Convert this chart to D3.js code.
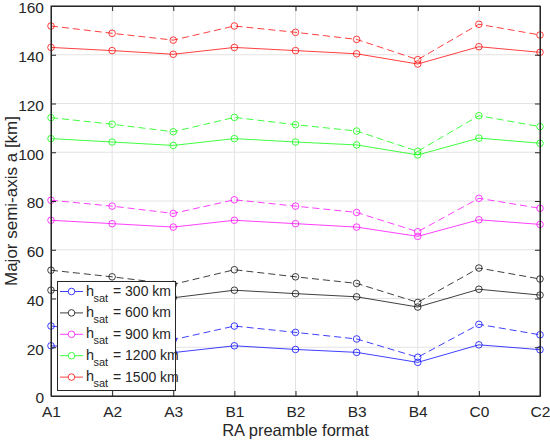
<!DOCTYPE html>
<html><head><meta charset="utf-8">
<script src="https://cdn.jsdelivr.net/npm/d3@7"></script>
<style>body{margin:0;background:#fff}svg{display:block;font-family:"Liberation Sans",Arial,sans-serif}</style>
</head><body><svg id="c" width="550" height="442"></svg>
<script>
const categories = ["A1","A2","A3","B1","B2","B3","B4","C0","C2"];
const yTicks = [0,20,40,60,80,100,120,140,160];
const heights = ["300","600","900","1200","1500"];
const colors = ["#0000ff","#000000","#ff00ff","#00ff00","#ff0000"];
const solid300  = [20.6,19.3,17.8,20.6,19.1,17.9,13.8,21.0,19.0];
const dashed300 = [28.7,26.0,23.1,28.7,26.1,23.4,15.9,29.4,25.1];
const solid600  = [43.4,42.0,40.3,43.4,42.0,40.7,36.5,43.8,41.4];
const dashed600 = [51.6,48.9,45.8,51.8,48.9,46.2,38.4,52.5,48.0];
const solid900  = [72.1,70.7,69.3,72.1,70.7,69.3,65.5,72.3,70.4];
const dashed900 = [80.3,77.9,74.9,80.5,77.9,75.3,67.4,81.1,77.0];
const solid1200  = [105.6,104.2,102.8,105.6,104.2,103.0,98.9,105.8,103.7];
const dashed1200 = [114.2,111.5,108.4,114.3,111.3,108.7,100.4,115.0,110.5];
const solid1500  = [143.0,141.7,140.2,143.0,141.7,140.4,136.2,143.3,141.0];
const dashed1500 = [151.8,148.8,146.0,151.8,149.2,146.3,138.0,152.5,148.1];
const solids = [solid300,solid600,solid900,solid1200,solid1500];
const dasheds = [dashed300,dashed600,dashed900,dashed1200,dashed1500];

const L=51,R=540,T=6,B=396;
const svg=d3.select("#c");
const x=d3.scalePoint().domain(categories).range([L,R]);
const y=d3.scaleLinear().domain([0,160]).range([B,T]);
const axisCol="#262626";

// grid
const g=svg.append("g");
g.selectAll("line.gx").data(categories).enter().append("line")
 .attr("x1",d=>x(d)).attr("x2",d=>x(d)).attr("y1",T).attr("y2",B)
 .attr("stroke","#e3e3e3").attr("stroke-width",1);
g.selectAll("line.gy").data(yTicks).enter().append("line")
 .attr("y1",d=>y(d)).attr("y2",d=>y(d)).attr("x1",L).attr("x2",R)
 .attr("stroke","#e3e3e3").attr("stroke-width",1);

// series
const line=d3.line().x((d,i)=>x(categories[i])).y(d=>y(d));
[[dasheds,"7,4"],[solids,null]].forEach(([sets,dash])=>{
  sets.forEach((vals,k)=>{
    const p=svg.append("path").datum(vals).attr("d",line).attr("fill","none")
      .attr("stroke",colors[k]).attr("stroke-width",1).attr("stroke-opacity",0.75);
    if(dash) p.attr("stroke-dasharray",dash);
    svg.selectAll(null).data(vals).enter().append("circle")
      .attr("cx",(d,i)=>x(categories[i])).attr("cy",d=>y(d)).attr("r",3.3)
      .attr("fill","none").attr("stroke",colors[k]).attr("stroke-width",1).attr("stroke-opacity",0.75);
  });
});

// axes
const ax=d3.axisBottom(x).tickSizeInner(-5).tickSizeOuter(0).tickPadding(10);
svg.append("g").attr("transform",`translate(0,${B})`).call(ax);
const ay=d3.axisLeft(y).tickValues(yTicks).tickSizeInner(-5).tickSizeOuter(0).tickPadding(7);
const gy=svg.append("g").attr("transform",`translate(${L},0)`).call(ay);
svg.append("g").attr("transform",`translate(0,${T})`).call(d3.axisTop(x).tickSizeInner(-5).tickSizeOuter(0).tickFormat(""));
svg.append("g").attr("transform",`translate(${R},0)`).call(d3.axisRight(y).tickValues(yTicks).tickSizeInner(-5).tickSizeOuter(0).tickFormat(""));
svg.selectAll(".domain").attr("stroke",axisCol);
svg.selectAll(".tick line").attr("stroke",axisCol);
svg.selectAll(".tick text").attr("fill",axisCol).style("font-size","15.5px").style("font-family","Liberation Sans, Arial, sans-serif");
gy.selectAll(".tick text").attr("dy","0.45em");
svg.append("rect").attr("x",L).attr("y",T).attr("width",R-L).attr("height",B-T).attr("fill","none").attr("stroke",axisCol);

svg.append("text").attr("x",(L+R)/2).attr("y",436).attr("text-anchor","middle")
 .attr("fill",axisCol).style("font-size","16.5px").text("RA preamble format");
svg.append("text").attr("transform",`translate(17,${(T+B)/2}) rotate(-90)`).attr("text-anchor","middle")
 .attr("fill",axisCol).style("font-size","17px").text("Major semi-axis a [km]");

// legend
const lg=svg.append("g");
lg.append("rect").attr("x",57.5).attr("y",281.5).attr("width",118).attr("height",109)
 .attr("fill","#fff").attr("stroke",axisCol).attr("stroke-width",1);
heights.forEach((h,k)=>{
  const yy=291.5+k*21.4;
  lg.append("line").attr("x1",60).attr("x2",83).attr("y1",yy).attr("y2",yy)
    .attr("stroke",colors[k]).attr("stroke-opacity",0.75);
  lg.append("circle").attr("cx",71.5).attr("cy",yy).attr("r",3.3).attr("fill","#fff")
    .attr("stroke",colors[k]).attr("stroke-opacity",0.75);
  lg.append("text").attr("x",86).attr("y",yy+4).attr("fill",axisCol).style("font-size","14.5px").text("h");
  lg.append("text").attr("x",93.5).attr("y",yy+10).attr("fill",axisCol).style("font-size","11px").text("sat");
  lg.append("text").attr("x",113).attr("y",yy+4.5).attr("fill",axisCol).style("font-size","14px").text(`= ${h} km`);
});
</script></body></html>
